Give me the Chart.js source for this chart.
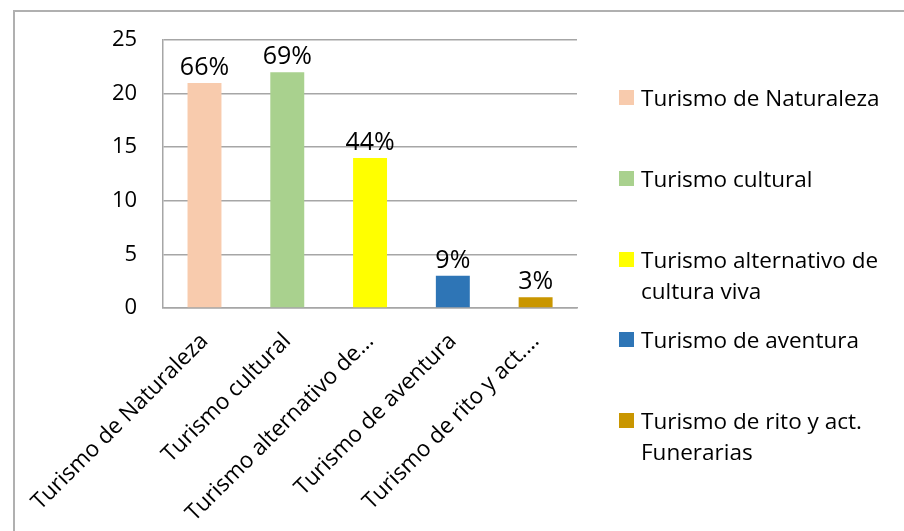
<!DOCTYPE html>
<html>
<head>
<meta charset="utf-8">
<script src="https://cdn.jsdelivr.net/npm/chart.js@4"></script>
<style>
  body { margin: 0; background: #fff; }
  #wrap { position: relative; width: 904px; height: 531px; overflow: hidden; }
  #frame { position: absolute; left: 13px; top: 10px; right: -10px; bottom: -10px;
           border-top: 2px solid #b0b0b0; border-left: 2px solid #b0b0b0; }
  #grafico { position: absolute; left: 0; top: 0; }
  #leyenda { position: absolute; left: 619px; top: 0; font-family: 'Open Sans', sans-serif; font-size: 22.5px; color: #000; }
  .item { position: absolute; left: 0; white-space: pre; line-height: 31px; padding-left: 22px; }
  .item span { position: absolute; left: 0; top: 8px; width: 15px; height: 15px; }
</style>
</head>
<body>
<div id="wrap">
  <div id="frame"></div>
  <canvas id="grafico" width="904" height="531"></canvas>
  <div id="leyenda"></div>
</div>
<script>
const categorias = ['Turismo de Naturaleza', 'Turismo cultural', 'Turismo alternativo de cultura viva',
  'Turismo de aventura', 'Turismo de rito y act. Funerarias'];
const etiquetasEje = ['Turismo de Naturaleza', 'Turismo cultural', 'Turismo alternativo de…',
  'Turismo de aventura', 'Turismo de rito y act.…'];
const lineasLeyenda = ['Turismo de Naturaleza', 'Turismo cultural', 'Turismo alternativo de\ncultura viva',
  'Turismo de aventura', 'Turismo de rito y act.\nFunerarias'];
const valores = [21, 22, 14, 3, 1];
const porcentajes = ['66%', '69%', '44%', '9%', '3%'];
const colores = ['#F8CBAD', '#A9D18E', '#FFFF00', '#2E75B6', '#C99600'];

// leyenda a la derecha, con texto en dos lineas cuando hace falta
const leyenda = document.getElementById('leyenda');
lineasLeyenda.forEach((txt, i) => {
  const d = document.createElement('div');
  d.className = 'item';
  d.style.top = (82 + i * 80.75) + 'px';
  d.textContent = txt;
  const m = document.createElement('span');
  m.style.background = colores[i];
  d.prepend(m);
  leyenda.appendChild(d);
});

const etiquetasBarras = {
  id: 'etiquetasBarras',
  afterDatasetsDraw(chart) {
    const ctx = chart.ctx;
    ctx.save();
    ctx.font = '25px "Open Sans"';
    ctx.fillStyle = '#000';
    ctx.textAlign = 'center';
    ctx.textBaseline = 'alphabetic';
    chart.getDatasetMeta(0).data.forEach((bar, i) => {
      ctx.fillText(porcentajes[i], bar.x, bar.y - 8);
    });
    ctx.restore();
  }
};

new Chart(document.getElementById('grafico'), {
  type: 'bar',
  data: {
    labels: etiquetasEje,
    datasets: [{
      label: 'Cantidad',
      data: valores,
      backgroundColor: colores,
      categoryPercentage: 1,
      barPercentage: 0.41
    }]
  },
  options: {
    responsive: false,
    animation: false,
    layout: { padding: { left: 0, right: 327, top: 40, bottom: 0 } },
    plugins: {
      legend: { display: false },
      tooltip: { enabled: false }
    },
    scales: {
      y: {
        min: 0,
        max: 25,
        ticks: { stepSize: 5, padding: 26, color: '#000', font: { family: 'Open Sans', size: 22 } },
        grid: { color: '#a6a6a6', lineWidth: 1.5, drawTicks: false },
        border: { color: '#a6a6a6', width: 1.5 },
        afterFit(s) { s.width = 158; }
      },
      x: {
        ticks: { maxRotation: 45, minRotation: 45, autoSkip: false, padding: 20, color: '#000',
                 font: { family: 'Open Sans', size: 22.5 } },
        grid: { display: false, drawTicks: false },
        border: { color: '#a6a6a6', width: 1.5 },
        afterFit(s) { s.height = 223; }
      }
    }
  },
  plugins: [etiquetasBarras]
});
</script>
</body>
</html>
